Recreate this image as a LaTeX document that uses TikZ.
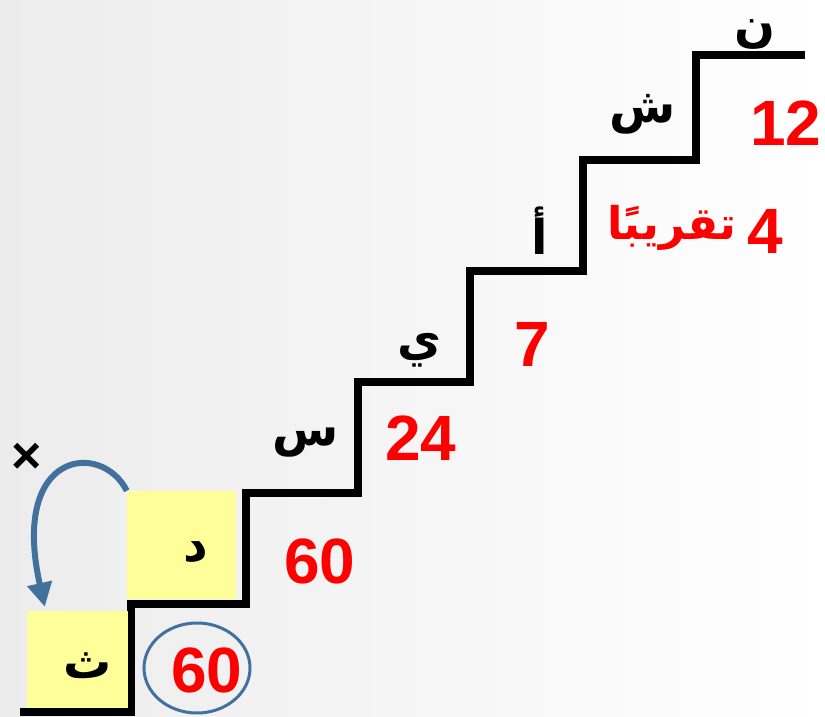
\documentclass[tikz,border=0pt]{standalone}
\usepackage{fontspec}
\setmainfont{Liberation Sans}
\newfontfamily\arabicfont[Script=Arabic]{DejaVu Sans}
\TeXXeTstate=1
\usepackage{tikz}
\usetikzlibrary{arrows.meta,shapes.geometric}
\definecolor{paleyellow}{RGB}{255,255,153}
\definecolor{steel}{RGB}{65,113,156}
\definecolor{backgray}{RGB}{236,236,236}

\begin{document}
\begin{tikzpicture}[
  x=1pt, y=-1pt,
  stair/.style={line width=8pt, line join=miter},
  cell/.style={fill=paleyellow, inner sep=0pt},
  letter/.style={font=\arabicfont\bfseries\fontsize{48}{48}\selectfont, inner sep=1pt},
  num/.style={text=red, font=\bfseries\fontsize{64}{64}\selectfont},
  ring/.style={ellipse, draw=steel, line width=3pt, minimum width=106pt, minimum height=90pt},
  back/.style={draw=steel, line width=6pt, -{Triangle[length=24pt, width=24pt]}}
]
\useasboundingbox (0,0) rectangle (825,717);
\shade[left color=backgray, right color=white] (0,0) rectangle (825,717);

\draw[stair] (20,712) -| (131,604) -| (246,493) -| (358,382) -| (470,271)
  -| (583,160) -| (696,55) -- (805,55);

\node[cell, minimum width=101pt, minimum height=97pt] (boxTh) at (77.5,659.5) {};
\node[cell, minimum width=109pt, minimum height=108pt] (boxD) at (181.5,545) {};

\node[letter] (Th) at (88,666) {\beginR ث\endR};
\node[letter] (D) at (196,552) {\beginR د\endR};
\node[letter] (Sin) at (306,443) {\beginR س\endR};
\node[letter] (Ya) at (419,350) {\beginR ي\endR};
\node[letter] (Alif) at (540,231) {\beginR أ\endR};
\node[letter] (Shin) at (643,114) {\beginR ش\endR};
\node[letter] (Nun) at (755,35) {\beginR ن\endR};

\node[ring] (ring) at (197,668) {};
\node[num] (nSixtyA) at (207,670) {60};
\node[num] (nSixtyB) at (320,561) {60};
\node[num] (nTwentyFour) at (421,438) {24};
\node[num] (nSeven) at (532,344) {7};
\node[num] (nFour) at (765,231) {4};
\node[text=red, font=\arabicfont\bfseries\fontsize{45}{45}\selectfont, anchor=east] (nAbout) at (740,228) {\beginR تقريبًا\endR};
\node[num] (nTwelve) at (786,123) {12};

\node[font=\bfseries\fontsize{52}{52}\selectfont] (cross) at (27,458) {×};

\draw[back] (boxD.north west) .. controls +(-25,-50) and +(-35,-157) .. ([xshift=18pt, yshift=4pt]boxTh.north west);
\end{tikzpicture}
\end{document}
